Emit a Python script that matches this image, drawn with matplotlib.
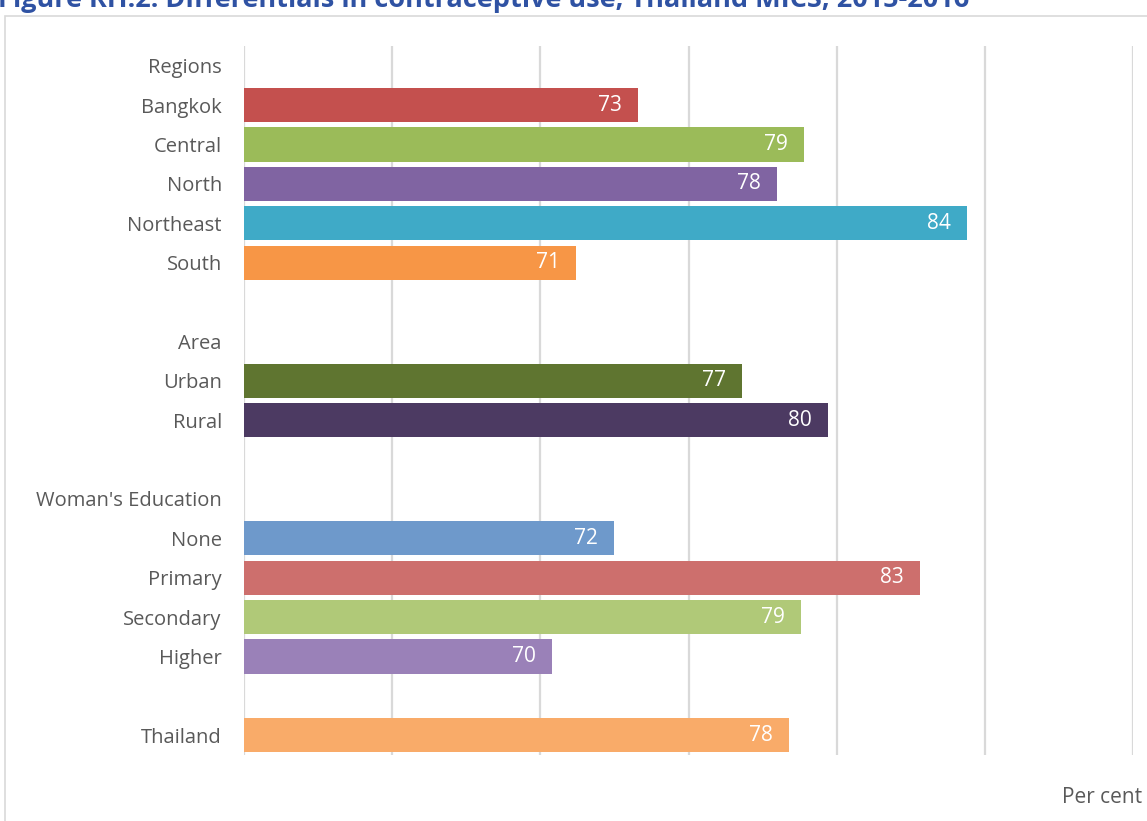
import numpy as np
import matplotlib.pyplot as plt
from matplotlib.patches import Rectangle

# ── data ──────────────────────────────────────────────────
# rows top to bottom; None = group header / spacer row (no bar)
labels = ["Regions", "Bangkok", "Central", "North", "Northeast", "South", "",
          "Area", "Urban", "Rural", "",
          "Woman's Education", "None", "Primary", "Secondary", "Higher", "",
          "Thailand"]
values = [None, 73.3, 78.9, 78.0, 84.4, 71.2, None,
          None, 76.8, 79.7, None,
          None, 72.5, 82.8, 78.8, 70.4, None,
          78.4]
colors = [None, "#C4504E", "#9BBB59", "#8064A2", "#3FAAC7", "#F79646", None,
          None, "#5F7530", "#4C3A62", None,
          None, "#6E99CB", "#CD6F6D", "#B0C978", "#9A81B8", None,
          "#F9AB69"]

XMIN, XMAX = 60, 90
TITLE = "Figure RH.2: Differentials in contraceptive use, Thailand MICS, 2015-2016"

plt.rcParams["font.family"] = ["Open Sans", "DejaVu Sans"]

W, H = 1147, 821
fig = plt.figure(figsize=(W / 100, H / 100), dpi=100)

# outer chart frame
fig.patches.append(Rectangle((5 / W, -0.05), 1.2, 1 - 16 / H + 0.05,
                             transform=fig.transFigure, fill=False,
                             edgecolor="#D9D9D9", linewidth=1.2))

ax = fig.add_axes([244 / W, 66 / H, 889 / W, 709 / H])
n = len(labels)
y = np.arange(n)

for yi, v, c in zip(y, values, colors):
    if v is None:
        continue
    ax.barh(yi, v - XMIN, left=XMIN, height=0.87, color=c, zorder=3)
    ax.text(v - 0.55, yi, f"{v:.0f}", ha="right", va="center",
            color="white", fontsize=15, zorder=4)

ax.set_xlim(XMIN, XMAX)
ax.set_ylim(n - 0.5, -0.5)
ax.set_xticks(np.arange(XMIN, XMAX + 1, 5))
ax.set_xticklabels([])
ax.tick_params(axis="x", length=0)
ax.set_yticks(y)
ax.set_yticklabels(labels, fontsize=14.5, color="#595959")
ax.tick_params(axis="y", length=0, pad=16)
ax.grid(axis="x", color="#D9D9D9", linewidth=1.6, zorder=0)
for s in ax.spines.values():
    s.set_visible(False)

fig.text(-2 / W, 1 - 7 / H, TITLE, fontsize=19.5, fontweight="bold",
         color="#2F52A3", ha="left", va="baseline")
fig.text(1062 / W, 1 - 803 / H, "Per cent", fontsize=15,
         color="#595959", ha="left", va="baseline")

plt.savefig("out.png", dpi=100)
